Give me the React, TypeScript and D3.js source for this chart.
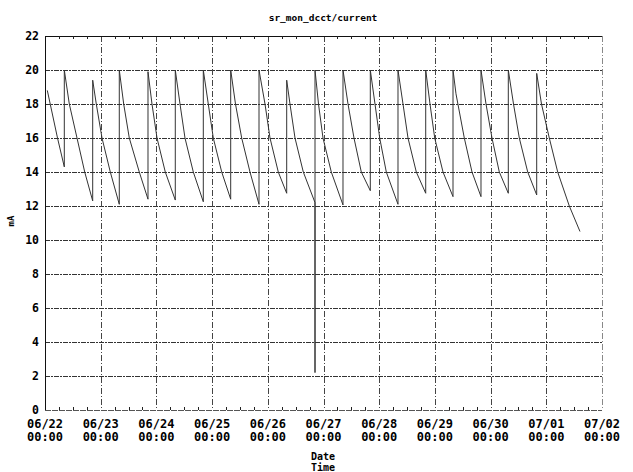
import React from "react";
import * as d3 from "d3";

const dateLabels = ["06/22", "06/23", "06/24", "06/25", "06/26", "06/27", "06/28", "06/29", "06/30", "07/01", "07/02"];
const timeLabels = ["00:00", "00:00", "00:00", "00:00", "00:00", "00:00", "00:00", "00:00", "00:00", "00:00", "00:00"];
const yTicks = [0, 2, 4, 6, 8, 10, 12, 14, 16, 18, 20, 22];

// hours since 06/22 00:00
const hours = [
  0.99, 5.39, 8.32, 8.32, 10.47, 13.79, 17.11, 20.55,
  20.55, 22.1, 24.56, 28.14, 32.01,
  32.01, 33.91, 36.32, 40.63, 44.38,
  44.38, 46.1, 48.26, 51.83, 56.14,
  56.14, 58.17, 60.32, 63.9, 68.21,
  68.21, 70.36, 72.52, 76.14, 80.01,
  80.01, 82.08, 84.75, 88.33, 92.21,
  92.21, 94.8, 96.95, 100.52, 104.14,
  104.14, 105.56, 107.72, 111.3, 116.34,
  116.34, 116.34, 117.85, 119.78, 123.36, 128.4,
  128.4, 130.56, 133.14, 136.29, 140.17,
  140.17, 142.19, 144.22, 147.06, 152.1,
  152.1, 154.26, 156.41, 159.99, 164.04,
  164.04, 165.89, 167.92, 171.49, 175.8,
  175.8, 177.09, 180.67, 183.99, 187.86,
  187.86, 190.02, 192.6, 195.75, 199.63,
  199.63, 201.87, 204.37, 207.99, 211.86,
  211.86, 213.93, 217.29, 220.91, 225.91, 230.52,
];
const current = [
  18.8, 16.0, 14.3, 20.0, 18.0, 16.0, 14.0, 12.3,
  19.4, 18.0, 16.0, 14.0, 12.1,
  20.0, 18.0, 16.0, 14.0, 12.4,
  19.9, 18.0, 16.0, 14.0, 12.35,
  20.0, 18.0, 16.0, 14.0, 12.25,
  20.0, 18.0, 16.0, 14.0, 12.4,
  20.0, 18.0, 16.0, 14.0, 12.1,
  20.0, 18.0, 16.0, 14.0, 12.75,
  19.4, 18.0, 16.0, 14.0, 12.2,
  2.2, 20.0, 18.0, 16.0, 14.0, 12.06,
  20.0, 18.0, 16.0, 14.0, 12.9,
  20.0, 18.0, 16.0, 14.0, 12.1,
  20.0, 18.0, 16.0, 14.0, 12.75,
  20.0, 18.0, 16.0, 14.0, 12.55,
  20.0, 18.6, 16.0, 14.0, 12.55,
  20.0, 18.0, 16.0, 14.0, 12.75,
  20.0, 18.0, 16.0, 14.0, 12.65,
  19.8, 18.0, 16.0, 14.0, 12.0, 10.5,
];

const W = 633;
const H = 472;
const L = 45;
const R = 602;
const T = 36;
const B = 410;

export default function App() {
  const x = d3.scaleLinear().domain([0, 240]).range([L, R]);
  const y = d3.scaleLinear().domain([0, 22]).range([B, T]);
  const pts: [number, number][] = hours.map((h, i) => [h, current[i]]);
  const line = d3
    .line<[number, number]>()
    .x((d) => x(d[0]))
    .y((d) => y(d[1]));
  const dayTicks = d3.range(0, 241, 24);
  const minorTicks = d3.range(0, 241, 6).filter((h) => h % 24 !== 0);
  const font = "'DejaVu Sans Mono', monospace";
  return (
    <svg
      width={W}
      height={H}
      style={{ position: "absolute", left: 0, top: 0, background: "#fff" }}
      fontFamily={font}
    >
      <rect x={0} y={0} width={W} height={H} fill="#fff" />
      {yTicks
        .filter((v) => v > 0 && v < 22)
        .map((v) => (
          <line
            key={"h" + v}
            x1={L}
            x2={R}
            y1={Math.round(y(v)) + 0.5}
            y2={Math.round(y(v)) + 0.5}
            stroke="#333"
            strokeWidth={1}
            strokeDasharray="5,1,2,1"
          />
        ))}
      {dayTicks
        .filter((h) => h > 0)
        .map((h) => (
          <line
            key={"v" + h}
            x1={Math.round(x(h)) + 0.5}
            x2={Math.round(x(h)) + 0.5}
            y1={T}
            y2={B}
            stroke={h === 240 ? "#888" : "#444"}
            strokeWidth={1}
            strokeDasharray="6,2,1,2"
          />
        ))}
      <line x1={L + 0.5} x2={L + 0.5} y1={T} y2={B} stroke="#111" strokeWidth={1} />
      <line x1={L} x2={R} y1={T + 0.5} y2={T + 0.5} stroke="#111" strokeWidth={1} />
      <line x1={L} x2={R} y1={B + 0.5} y2={B + 0.5} stroke="#555" strokeWidth={1} strokeDasharray="6,1" />
      {minorTicks.map((h) => (
        <g key={"m" + h}>
          <line x1={Math.round(x(h)) + 0.5} x2={Math.round(x(h)) + 0.5} y1={T} y2={T + 3} stroke="#222" />
          <line x1={Math.round(x(h)) + 0.5} x2={Math.round(x(h)) + 0.5} y1={B - 3} y2={B} stroke="#222" />
        </g>
      ))}
      <path d={line(pts) || ""} fill="none" stroke="#333" strokeWidth={1} />
      {yTicks.map((v) => (
        <text
          key={"yl" + v}
          x={39}
          y={y(v)}
          dy="0.36em"
          textAnchor="end"
          fontSize={11.5}
          fontWeight="bold"
          fill="#000"
        >
          {v}
        </text>
      ))}
      {dayTicks.map((h, i) => (
        <g key={"xl" + h}>
          <text x={x(h)} y={428} textAnchor="middle" fontSize={12} fontWeight="bold" fill="#000">
            {dateLabels[i]}
          </text>
          <text x={x(h)} y={441} textAnchor="middle" fontSize={12} fontWeight="bold" fill="#000">
            {timeLabels[i]}
          </text>
        </g>
      ))}
      <text x={323} y={21} textAnchor="middle" fontSize={9.5} fontWeight="bold" fill="#000">
        sr_mon_dcct/current
      </text>
      <text x={323} y={460} textAnchor="middle" fontSize={10} fontWeight="bold" fill="#000">
        Date
      </text>
      <text x={323} y={471} textAnchor="middle" fontSize={10} fontWeight="bold" fill="#000">
        Time
      </text>
      <text
        transform={`translate(14,${(T + B) / 2 - 2}) rotate(-90)`}
        textAnchor="middle"
        fontSize={9}
        fontWeight="bold"
        fill="#000"
      >
        mA
      </text>
    </svg>
  );
}
